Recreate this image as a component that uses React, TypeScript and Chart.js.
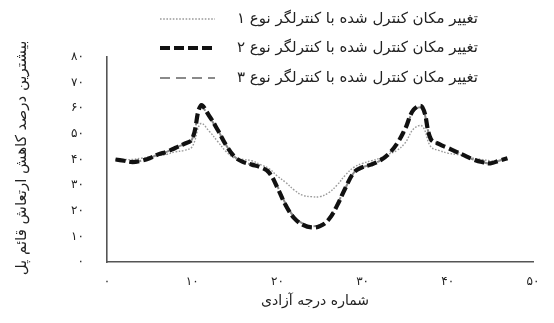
import React, { useEffect, useRef } from "react";
import { Chart, registerables } from "chart.js";

Chart.register(...registerables);

// Degree-of-freedom numbers along the horizontal axis
const DOF = [
  1, 2, 3, 4, 5, 6, 7, 8, 9, 10, 11, 12, 13, 14, 15, 16, 17, 18, 19, 20, 21, 22, 23, 24,
  25, 26, 27, 28, 29, 30, 31, 32, 33, 34, 35, 36, 37, 38, 39, 40, 41, 42, 43, 44, 45, 46, 47,
];

// Maximum vertical vibration reduction (%) for each controller type
const TYPE_1 = [
  40, 40, 40, 40.5, 41, 41.5, 42, 43, 43.5, 45, 54, 51, 47, 43, 40.5, 40, 39.5, 38, 36.5, 33.5,
  31, 28, 26, 25.5, 25.5, 27, 30, 34, 37, 38.5, 39.5, 40.5, 42, 43.5, 46.5, 52, 53, 45, 43.5,
  42.5, 42, 41.5, 40.5, 40, 39.5, 39.5, 40,
];
const TYPE_2 = [
  40, 39.5, 39, 39.5, 40.5, 42, 43, 44.5, 46, 48, 61, 57, 51.5, 45.5, 41, 39, 38, 37, 35, 29,
  22, 17, 14.5, 13.5, 14, 16.5, 22, 29, 35, 37, 38, 39.5, 42, 46, 52, 59.5, 60.5, 48, 46, 44.5,
  43, 41.5, 40, 39, 38.5, 39.5, 40.5,
];
const TYPE_3 = [
  40, 39.5, 39, 39.5, 40.5, 42, 43, 44.5, 46, 48, 60.5, 56.5, 51.5, 45.5, 41, 39, 38, 37, 35,
  29.5, 22.5, 17.5, 15, 14, 14.5, 17, 22.5, 29, 35, 37, 38, 39.5, 42, 46, 51.5, 59, 60, 48,
  46, 44.5, 43, 41.5, 40, 39, 38.5, 39.5, 40.5,
];

const SERIES_LABELS = [
  "تغییر مکان کنترل شده با کنترلگر نوع ۱",
  "تغییر مکان کنترل شده با کنترلگر نوع ۲",
  "تغییر مکان کنترل شده با کنترلگر نوع ۳",
];
const X_TITLE = "شماره درجه آزادی";
const Y_TITLE = "بیشترین درصد کاهش ارتعاش قائم پل";

const X_MIN = 0;
const X_MAX = 50;
const X_STEP = 10;
const Y_MIN = 0;
const Y_MAX = 80;
const Y_STEP = 10;

const FA_DIGITS = ["۰", "۱", "۲", "۳", "۴", "۵", "۶", "۷", "۸", "۹"];
const toPersianDigits = (v: number | string) =>
  String(v).replace(/[0-9]/g, (d) => FA_DIGITS[Number(d)]);

const FONT_FAMILY = "'DejaVu Sans', sans-serif";
const TEXT_COLOR = "#222";

const STYLES = [
  { color: "#9a9a9a", width: 1.4, dash: [1.6, 1.6] },
  { color: "#111111", width: 4.2, dash: [10, 4] },
  { color: "#8a8a8a", width: 2, dash: [10, 6] },
];

const annotationPlugin = {
  id: "legendAndTitles",
  afterDraw(chart: Chart) {
    const ctx = chart.ctx as CanvasRenderingContext2D & { direction: CanvasDirection };
    ctx.save();
    ctx.fillStyle = TEXT_COLOR;
    ctx.textBaseline = "middle";
    ctx.direction = "rtl";

    // legend rows: line sample on the left, right-to-left label after it
    const rowsY = [19, 48, 78];
    ctx.font = `15px ${FONT_FAMILY}`;
    SERIES_LABELS.forEach((label, i) => {
      const y = rowsY[i];
      ctx.fillStyle = TEXT_COLOR;
      ctx.textAlign = "right";
      ctx.fillText(label, 478, y);
      const st = STYLES[i];
      ctx.beginPath();
      ctx.setLineDash(st.dash);
      ctx.strokeStyle = st.color;
      ctx.lineWidth = st.width;
      ctx.moveTo(160, y);
      ctx.lineTo(215, y);
      ctx.stroke();
    });
    ctx.setLineDash([]);

    // horizontal axis title
    ctx.font = `14px ${FONT_FAMILY}`;
    ctx.textAlign = "center";
    ctx.fillText(X_TITLE, 315, 301);

    // vertical axis title
    ctx.font = `15px ${FONT_FAMILY}`;
    ctx.translate(22, 158);
    ctx.rotate(-Math.PI / 2);
    ctx.textAlign = "center";
    ctx.fillText(Y_TITLE, 0, 0);
    ctx.restore();
  },
};

export default function App() {
  const canvasRef = useRef<HTMLCanvasElement | null>(null);

  useEffect(() => {
    const canvas = canvasRef.current;
    if (!canvas) return;
    const makeSet = (label: string, values: number[], i: number, order: number) => ({
      label,
      data: DOF.map((x, k) => ({ x, y: values[k] })),
      borderColor: STYLES[i].color,
      borderWidth: STYLES[i].width,
      borderDash: STYLES[i].dash,
      backgroundColor: "transparent",
      pointRadius: 0,
      tension: 0.4,
      fill: false,
      order,
    });
    const tickFont = { family: FONT_FAMILY, size: 12 };
    const chart = new Chart(canvas, {
      type: "line",
      data: {
        datasets: [
          makeSet(SERIES_LABELS[0], TYPE_1, 0, 2),
          makeSet(SERIES_LABELS[1], TYPE_2, 1, 1),
          makeSet(SERIES_LABELS[2], TYPE_3, 2, 3),
        ],
      },
      options: {
        responsive: false,
        animation: false,
        layout: { padding: { left: 0, right: 21, top: 57, bottom: 0 } },
        plugins: {
          legend: { display: false },
          tooltip: { enabled: false },
        },
        scales: {
          x: {
            type: "linear",
            min: X_MIN,
            max: X_MAX,
            afterFit: (s: any) => {
              s.height = 61;
            },
            grid: { display: false, drawTicks: false },
            border: { display: true, color: "#555", width: 1.6 },
            ticks: {
              stepSize: X_STEP,
              padding: 13,
              color: TEXT_COLOR,
              font: tickFont,
              callback: (v: any) => toPersianDigits(v),
            },
          },
          y: {
            min: Y_MIN,
            max: Y_MAX,
            afterFit: (s: any) => {
              s.width = 107;
            },
            grid: { display: false, drawTicks: false },
            border: { display: true, color: "#555", width: 1.6 },
            ticks: {
              stepSize: Y_STEP,
              padding: 23,
              color: TEXT_COLOR,
              font: tickFont,
              callback: (v: any) => toPersianDigits(v),
            },
          },
        },
      },
      plugins: [annotationPlugin],
    });
    return () => chart.destroy();
  }, []);

  return (
    <div style={{ position: "absolute", left: 0, top: 0, width: 554, height: 323, background: "#fff" }}>
      <canvas ref={canvasRef} width={554} height={323} />
    </div>
  );
}
